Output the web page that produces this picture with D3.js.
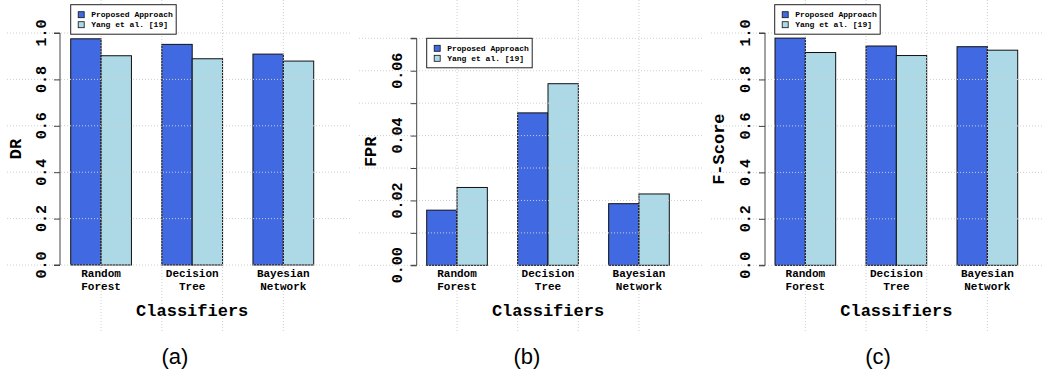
<html>
<head>
    <script src="https://d3js.org/d3.v7.min.js" charset="utf-8"></script>
    <style>
        body { margin: 0; background: #fff; }
        text { font-family: "Liberation Mono", "DejaVu Sans Mono", monospace; font-weight: bold; fill: #000; }
        .caption { font-family: "Liberation Sans", Arial, sans-serif; font-weight: normal; }
    </style>
</head>
<body>
<script>
    // Chart data
    var categories = ["Random Forest", "Decision Tree", "Bayesian Network"];
    var seriesNames = ["Proposed Approach", "Yang et al. [19]"];
    var seriesColors = ["#4169E1", "#ADD8E6"];

    var drProposed = [0.975, 0.951, 0.909];
    var drYang = [0.902, 0.889, 0.879];
    var fprProposed = [0.017, 0.047, 0.019];
    var fprYang = [0.024, 0.056, 0.022];
    var fscoreProposed = [0.978, 0.944, 0.941];
    var fscoreYang = [0.916, 0.903, 0.926];

    var unitTicks = [0, 0.2, 0.4, 0.6, 0.8, 1.0];
    var fprTicks = [0, 0.01, 0.02, 0.03, 0.04, 0.05, 0.06, 0.07];
    var fprTickLabels = [0, 0.02, 0.04, 0.06];

    var width = 1043, height = 373;
    var svg = d3.select("body").append("svg")
        .attr("width", width)
        .attr("height", height);

    // Layout of each of the three panels
    var panels = [
        { label: "DR", caption: "(a)", values: [drProposed, drYang], ticks: unitTicks, labelTicks: unitTicks, fmt: d3.format(".1f"),
          axisX: 60, barL: 70.7, barR: 313.7, yTop: 33, yBot: 265, gridL: 7, gridR: 350,
          legX: 70.7, legY: 4.7, ylabX: 15, tickLabX: 40.5, capX: 175 },
        { label: "FPR", caption: "(b)", values: [fprProposed, fprYang], ticks: fprTicks, labelTicks: fprTickLabels, fmt: d3.format(".2f"),
          axisX: 416.7, barL: 426.7, barR: 669.3, yTop: 38.3, yBot: 265.3, gridL: 359, gridR: 703,
          legX: 426.7, legY: 38.3, ylabX: 370.5, tickLabX: 396.5, capX: 527 },
        { label: "F-Score", caption: "(c)", values: [fscoreProposed, fscoreYang], ticks: unitTicks, labelTicks: unitTicks, fmt: d3.format(".1f"),
          axisX: 765, barL: 775, barR: 1017.7, yTop: 33, yBot: 265.3, gridL: 711, gridR: 1043,
          legX: 774.7, legY: 4.7, ylabX: 718.5, tickLabX: 744.7, capX: 878 }
    ];

    panels.forEach(function(p) {
        var g = svg.append("g");

        var y = d3.scaleLinear()
            .domain([0, d3.max(p.ticks)])
            .range([p.yBot, p.yTop]);

        // groups of 2 bars with 1 bar of space between groups
        var x0 = d3.scaleBand()
            .domain(categories)
            .range([p.barL, p.barR])
            .paddingInner(1 / 3)
            .paddingOuter(0);
        var x1 = d3.scaleBand()
            .domain(seriesNames)
            .range([0, x0.bandwidth()]);
        // bar units, like R's barplot coordinates, for the vertical grid
        var xu = d3.scaleLinear().domain([1, 9]).range([p.barL, p.barR]);

        // bars
        categories.forEach(function(c, i) {
            seriesNames.forEach(function(s, j) {
                var v = p.values[j][i];
                g.append("rect")
                    .attr("x", x0(c) + x1(s))
                    .attr("y", y(v))
                    .attr("width", x1.bandwidth())
                    .attr("height", y(0) - y(v))
                    .attr("fill", seriesColors[j])
                    .attr("stroke", "#111")
                    .attr("stroke-width", 1);
            });
        });

        // dotted grid, drawn over the bars
        g.selectAll(".hgrid").data(p.ticks).enter().append("line")
            .attr("x1", p.gridL).attr("x2", p.gridR)
            .attr("y1", function(d) { return y(d); })
            .attr("y2", function(d) { return y(d); })
            .attr("stroke", "#cfcfcf")
            .attr("stroke-dasharray", "1,2");
        g.selectAll(".vgrid").data([2, 4, 6, 8]).enter().append("line")
            .attr("x1", function(d) { return xu(d); })
            .attr("x2", function(d) { return xu(d); })
            .attr("y1", 0).attr("y2", 333)
            .attr("stroke", "#cfcfcf")
            .attr("stroke-dasharray", "1,2");

        // y axis
        var axis = g.append("g")
            .attr("transform", "translate(" + p.axisX + ",0)")
            .call(d3.axisLeft(y).tickValues(p.ticks).tickSize(6).tickFormat(""));
        axis.select(".domain").attr("stroke", "#444").attr("d", "M-6," + y(d3.max(p.ticks)) + "H0V" + y(0) + "H-6");
        axis.selectAll(".tick line").attr("stroke", "#444");

        g.selectAll(".ytl").data(p.labelTicks).enter().append("text")
            .attr("transform", function(d) { return "translate(" + p.tickLabX + "," + y(d) + ") rotate(-90)"; })
            .attr("text-anchor", "middle")
            .attr("dy", "0.35em")
            .style("font-size", "15px")
            .text(function(d) { return p.fmt(d); });

        g.append("text")
            .attr("transform", "translate(" + p.ylabX + "," + ((p.yTop + p.yBot) / 2) + ") rotate(-90)")
            .attr("text-anchor", "middle")
            .attr("dy", "0.35em")
            .style("font-size", "17px")
            .text(p.label);

        // category labels on two lines
        categories.forEach(function(c) {
            var words = c.split(" ");
            var t = g.append("text")
                .attr("text-anchor", "middle")
                .style("font-size", "11px");
            words.forEach(function(w, k) {
                t.append("tspan")
                    .attr("x", x0(c) + x0.bandwidth() / 2)
                    .attr("y", 277 + k * 13)
                    .text(w);
            });
        });

        g.append("text")
            .attr("x", (p.barL + p.barR) / 2)
            .attr("y", 316)
            .attr("text-anchor", "middle")
            .style("font-size", "17px")
            .text("Classifiers");

        g.append("text")
            .attr("class", "caption")
            .attr("x", p.capX)
            .attr("y", 364)
            .attr("text-anchor", "middle")
            .style("font-size", "22px")
            .text(p.caption);

        // legend
        var leg = g.append("g").attr("transform", "translate(" + p.legX + "," + p.legY + ")");
        leg.append("rect")
            .attr("width", 105.5).attr("height", 29.5)
            .attr("fill", "#fff").attr("stroke", "#222");
        seriesNames.forEach(function(s, j) {
            leg.append("rect")
                .attr("x", 7.5).attr("y", 7 + j * 10)
                .attr("width", 6).attr("height", 6)
                .attr("fill", seriesColors[j])
                .attr("stroke", "#111").attr("stroke-width", 0.8);
            leg.append("text")
                .attr("x", 20.5).attr("y", 12.8 + j * 10)
                .style("font-size", "8px")
                .text(s);
        });
    });
</script>
</body>
</html>
